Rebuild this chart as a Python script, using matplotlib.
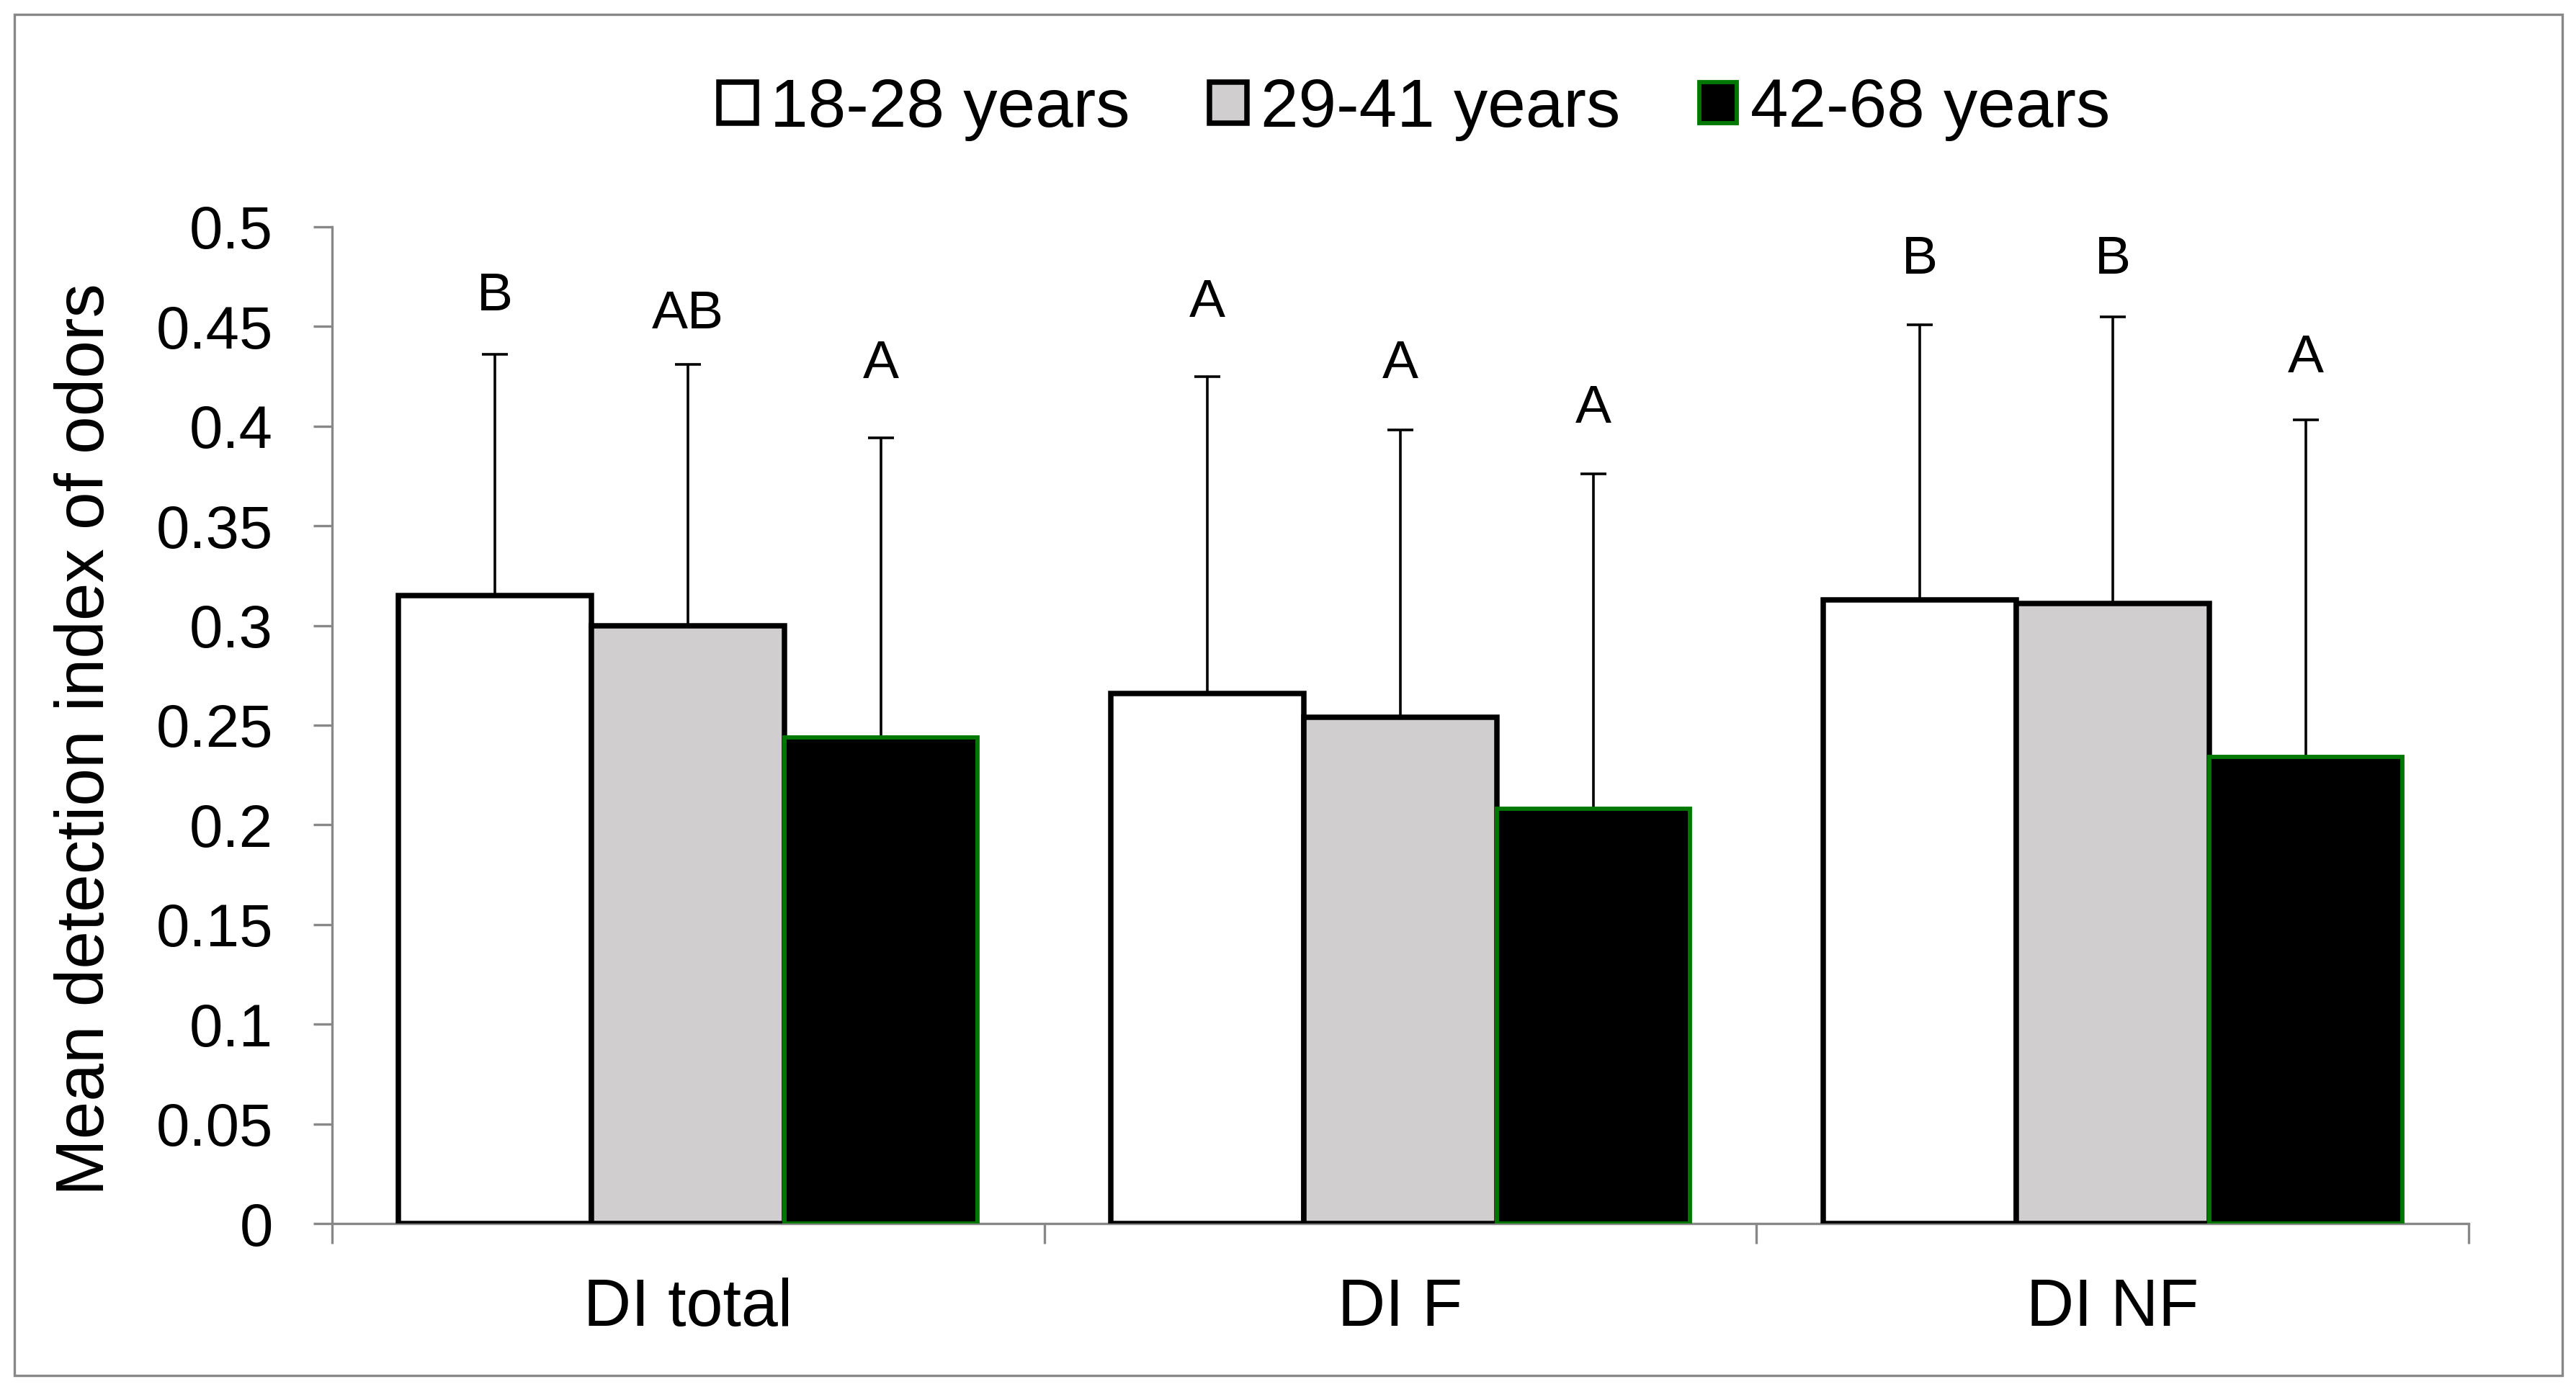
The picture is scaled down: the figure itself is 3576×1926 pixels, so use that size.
import matplotlib
matplotlib.use("Agg")
import matplotlib.pyplot as plt
import numpy as np
from matplotlib.patches import Rectangle

plt.rcParams['font.family'] = ['Liberation Sans', 'DejaVu Sans']

categories = ["DI total", "DI F", "DI NF"]
groups = ["18-28 years", "29-41 years", "42-68 years"]
means = {
    "18-28 years": [0.315, 0.266, 0.313],
    "29-41 years": [0.300, 0.254, 0.311],
    "42-68 years": [0.244, 0.208, 0.234],
}
sds = {
    "18-28 years": [0.121, 0.159, 0.138],
    "29-41 years": [0.131, 0.144, 0.144],
    "42-68 years": [0.150, 0.168, 0.169],
}
letters = {
    "18-28 years": ["B", "A", "B"],
    "29-41 years": ["AB", "A", "B"],
    "42-68 years": ["A", "A", "A"],
}
letter_y = {
    "18-28 years": [0.465, 0.462, 0.4835],
    "29-41 years": [0.456, 0.431, 0.4835],
    "42-68 years": [0.431, 0.4086, 0.434],
}
fills = ["#FFFFFF", "#D0CECF", "#000000"]
edges = ["#000000", "#000000", "#007800"]
edge_w = [2.7, 2.7, 2.1]

W, H = 3576, 1926
dpi = 200
fig = plt.figure(figsize=(W / dpi, H / dpi), dpi=dpi)
ax = fig.add_axes([461 / W, 1 - 1699 / H, (3427 - 461) / W, (1699 - 315) / H])

x = np.arange(len(categories))
bw = 0.271
handles = []
for i, g in enumerate(groups):
    xs = x + (i - 1) * bw
    b = ax.bar(xs, means[g], width=bw, color=fills[i], edgecolor=edges[i],
               linewidth=edge_w[i], zorder=3, label=g)
    handles.append(b)
    err = np.array(sds[g])
    eb = ax.errorbar(xs, means[g], yerr=[np.zeros_like(err), err], fmt='none',
                     ecolor='black', elinewidth=1.3, capsize=6.5, capthick=1.3, zorder=2.5)
    eb[1][0].set_visible(False)
    for xi, lab, ly in zip(xs, letters[g], letter_y[g]):
        ax.text(xi, ly, lab, ha='center', va='center', fontsize=27, zorder=5)

ax.set_xlim(-0.5, 2.5)
ax.set_ylim(0, 0.5)
ax.set_yticks(np.arange(0, 0.501, 0.05))
ax.set_yticklabels(["0", "0.05", "0.1", "0.15", "0.2", "0.25", "0.3", "0.35", "0.4", "0.45", "0.5"])
ax.set_xticks(x)
ax.set_xticklabels(categories)
ax.set_xticks([-0.5, 0.5, 1.5, 2.5], minor=True)
ax.tick_params(axis='x', which='major', length=0, labelsize=33, pad=27)
ax.tick_params(axis='x', which='minor', length=10, width=1.2, color='#888888', direction='out')
ax.tick_params(axis='y', which='major', length=9.5, width=1.2, color='#888888', labelsize=30, pad=20)

for s in ['top', 'right']:
    ax.spines[s].set_visible(False)
for s in ['left', 'bottom']:
    ax.spines[s].set_color('#888888')
    ax.spines[s].set_linewidth(1.2)
    ax.spines[s].set_zorder(2)

ax.set_ylabel("Mean detection index of odors", fontsize=34)
ax.yaxis.set_label_coords(-0.100, 0.486)

fig.legend(handles=handles, labels=groups, loc='center left',
           bbox_to_anchor=(998 / W, 1 - 151 / H),
           ncol=3, frameon=False, fontsize=34, handlelength=0.55, handleheight=0.55,
           handletextpad=0.2, columnspacing=1.17, borderpad=0, borderaxespad=0)

fig.patches.append(Rectangle((20 / W, 1 - 1910 / H), (3557 - 20) / W, (1910 - 20) / H,
                             transform=fig.transFigure, fill=False, edgecolor='#888888',
                             linewidth=1.2))

fig.savefig("out.png", dpi=dpi)
